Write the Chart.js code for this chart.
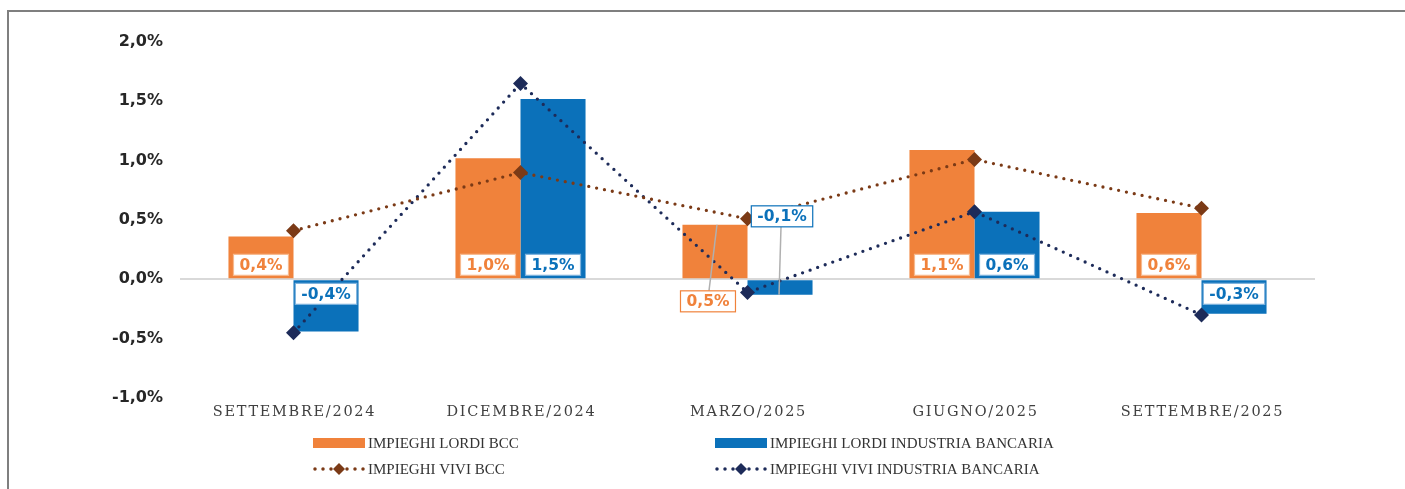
<!DOCTYPE html>
<html>
<head>
<meta charset="utf-8">
<title>Impieghi BCC vs industria bancaria</title>
<script src="https://cdn.jsdelivr.net/npm/chart.js@4.4.1/dist/chart.umd.min.js"></script>
<style>
    html, body { margin: 0; padding: 0; background: #fff; }
    #wrap { position: relative; width: 1405px; height: 489px; overflow: hidden; }
    #frame { position: absolute; left: 7px; top: 10px; width: 1420px; height: 500px;
             border-left: 2px solid #7f7f7f; border-top: 2px solid #7f7f7f; box-sizing: border-box; }
    #chartBoxCanvas { position: absolute; left: 0; top: 0; }
</style>
</head>
<body>
<div id="wrap">
    <div id="frame"></div>
    <canvas id="chartBoxCanvas" width="1405" height="489"></canvas>
</div>
<script>
'use strict';

// categories (quarters)
const periods = ['SETTEMBRE/2024', 'DICEMBRE/2024', 'MARZO/2025', 'GIUGNO/2025', 'SETTEMBRE/2025'];

// quarterly change, %
const lordiBcc = [0.36, 1.02, 0.46, 1.09, 0.56];
const lordiIndustria = [-0.44, 1.52, -0.13, 0.57, -0.29];
const viviBcc = [0.41, 0.90, 0.51, 1.01, 0.60];
const viviIndustria = [-0.45, 1.65, -0.11, 0.57, -0.30];

const yTicks = [-1.0, -0.5, 0.0, 0.5, 1.0, 1.5, 2.0];

const ORANGE = '#F0823B';
const BLUE = '#0B71BA';
const BROWN = '#7B3A16';
const NAVY = '#1D2B59';

const fmtPct = v => v.toFixed(1).replace('.', ',') + '%';

// labels on the bars; March ones are callouts with leader lines
const barLabels_nm = {
    id: 'barLabels',
    afterDatasetsDraw(chart) {
        const ctx = chart.ctx;
        const base = chart.scales.y.getPixelForValue(0);
        ctx.save();
        ctx.font = 'bold 15.5px "DejaVu Sans"';
        ctx.textAlign = 'center';
        ctx.textBaseline = 'middle';
        [0, 1].forEach(di => {
            const ds = chart.data.datasets[di];
            const meta = chart.getDatasetMeta(di);
            meta.data.forEach((bar, i) => {
                const v = ds.data[i];
                const txt = fmtPct(v);
                const w = ctx.measureText(txt).width + 12;
                const h = 21;
                let cx = bar.x, cy;
                let callout = (i === 2);
                if (!callout) {
                    cy = v >= 0 ? base - 4 - h / 2 : base + 4 + h / 2;
                } else if (di === 0) {
                    cx = bar.x - 7;
                    cy = base + 22;
                } else {
                    cx = bar.x + 2;
                    cy = base - 63;
                }
                if (callout) {
                    ctx.strokeStyle = '#b0b0b0';
                    ctx.lineWidth = 1.5;
                    ctx.beginPath();
                    if (di === 0) {
                        ctx.moveTo(cx + 1, cy - h / 2);
                        ctx.lineTo(bar.x + 2, bar.y);
                    } else {
                        ctx.moveTo(cx - 1, cy + h / 2);
                        ctx.lineTo(bar.x - 1, bar.y);
                    }
                    ctx.stroke();
                }
                ctx.fillStyle = '#ffffff';
                ctx.fillRect(cx - w / 2, cy - h / 2, w, h);
                ctx.strokeStyle = callout ? ds.backgroundColor : (di === 0 ? '#F7B98E' : '#7DB2DD');
                ctx.lineWidth = 1.2;
                ctx.strokeRect(cx - w / 2, cy - h / 2, w, h);
                ctx.fillStyle = ds.backgroundColor;
                ctx.fillText(txt, cx, cy + 1);
            });
        });
        ctx.restore();
    }
};

// category names (wide spaced serif) and the two-column legend
const legend2col_nm = {
    id: 'legend2col',
    afterDraw(chart) {
        const ctx = chart.ctx;
        const area = chart.chartArea;
        const xs = chart.scales.x;
        ctx.save();
        ctx.font = '14.5px "DejaVu Serif"';
        ctx.fillStyle = '#404040';
        ctx.textAlign = 'center';
        ctx.textBaseline = 'middle';
        if ('letterSpacing' in ctx) ctx.letterSpacing = '1.7px';
        chart.data.labels.forEach((lab, i) => {
            ctx.fillText(lab, xs.getPixelForTick(i) + 1, area.bottom + 14);
        });
        if ('letterSpacing' in ctx) ctx.letterSpacing = '0px';

        const cols = [area.left + 133, area.left + 535];
        const rows = [area.bottom + 45, area.bottom + 71];
        ctx.font = '15px "Liberation Serif"';
        ctx.textAlign = 'left';
        chart.data.datasets.forEach((ds, i) => {
            const x = cols[i % 2];
            const y = rows[Math.floor(i / 2)];
            if (ds.type === 'line') {
                ctx.strokeStyle = ds.borderColor;
                ctx.lineWidth = 3.5;
                ctx.lineCap = 'round';
                ctx.setLineDash([0, 8]);
                ctx.beginPath();
                ctx.moveTo(x + 2, y);
                ctx.lineTo(x + 51, y);
                ctx.stroke();
                ctx.setLineDash([]);
                ctx.fillStyle = ds.borderColor;
                ctx.beginPath();
                ctx.moveTo(x + 26, y - 6);
                ctx.lineTo(x + 32, y);
                ctx.lineTo(x + 26, y + 6);
                ctx.lineTo(x + 20, y);
                ctx.closePath();
                ctx.fill();
            } else {
                ctx.fillStyle = ds.backgroundColor;
                ctx.fillRect(x, y - 5, 52, 10);
            }
            ctx.fillStyle = '#333333';
            ctx.fillText(ds.label, x + 55, y + 1);
        });
        ctx.restore();
    }
};

const ctx = document.getElementById('chartBoxCanvas').getContext('2d');
window.myChart = new Chart(ctx, {
    type: 'bar',
    data: {
        labels: periods,
        datasets: [
            { type: 'bar', label: 'IMPIEGHI LORDI BCC', data: lordiBcc,
              backgroundColor: ORANGE, order: 3,
              categoryPercentage: 0.573, barPercentage: 1.0 },
            { type: 'bar', label: 'IMPIEGHI LORDI INDUSTRIA BANCARIA', data: lordiIndustria,
              backgroundColor: BLUE, order: 3,
              categoryPercentage: 0.573, barPercentage: 1.0 },
            { type: 'line', label: 'IMPIEGHI VIVI BCC', data: viviBcc,
              borderColor: BROWN, backgroundColor: BROWN, borderWidth: 3.3,
              borderDash: [0, 8], borderCapStyle: 'round', tension: 0,
              pointStyle: 'rectRot', pointRadius: 7.5, pointBorderWidth: 0, order: 1 },
            { type: 'line', label: 'IMPIEGHI VIVI INDUSTRIA BANCARIA', data: viviIndustria,
              borderColor: NAVY, backgroundColor: NAVY, borderWidth: 3.3,
              borderDash: [0, 8], borderCapStyle: 'round', tension: 0,
              pointStyle: 'rectRot', pointRadius: 7.5, pointBorderWidth: 0, order: 1 }
        ]
    },
    options: {
        responsive: false,
        animation: false,
        layout: { padding: { top: 42, right: 90, left: 0, bottom: 0 } },
        plugins: {
            legend: { display: false },
            tooltip: { enabled: false }
        },
        scales: {
            x: {
                grid: { display: false, drawTicks: false },
                border: { display: false },
                ticks: { display: false },
                afterFit(s) { s.height = 91; }
            },
            y: {
                min: -1, max: 2,
                afterBuildTicks(s) { s.ticks = yTicks.map(v => ({ value: v })); },
                afterFit(s) { s.width = 180; },
                border: { display: false },
                grid: {
                    drawTicks: false,
                    lineWidth: 2,
                    color: c => c.tick && c.tick.value === 0 ? '#d9d9d9' : 'rgba(0,0,0,0)'
                },
                ticks: {
                    padding: 17,
                    color: '#262626',
                    font: { family: '"DejaVu Sans"', size: 16, weight: 'bold' },
                    callback: v => fmtPct(v)
                }
            }
        }
    },
    plugins: [barLabels_nm, legend2col_nm]
});
</script>
</body>
</html>
